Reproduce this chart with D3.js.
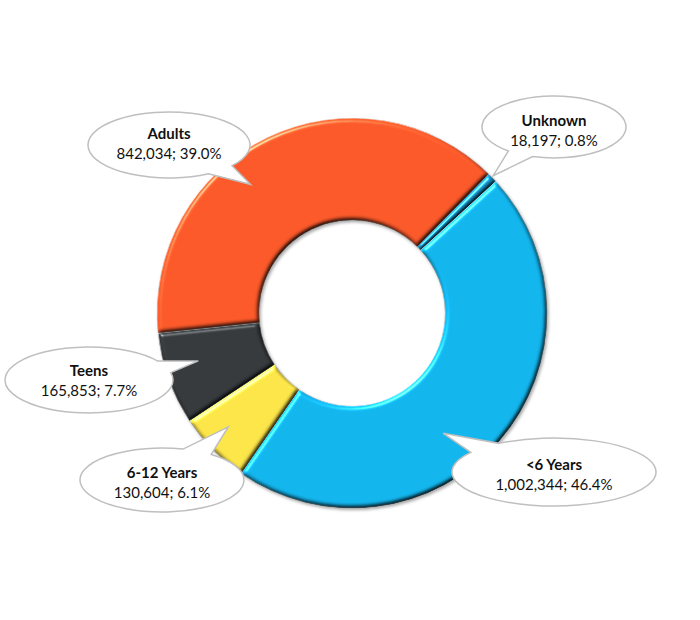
<!DOCTYPE html>
<html lang="en">
<head>
<meta charset="UTF-8">
<script src="https://d3js.org/d3.v7.min.js"></script>
<style>
  body { margin: 0; background: #fff; }
  svg { display: block; font-family: Lato, "Open Sans", sans-serif; }
</style>
</head>
<body>
<script>
// Donut data
const categories = ['Unknown', '<6 Years', '6-12 Years', 'Teens', 'Adults'];
const counts = [18197, 1002344, 130604, 165853, 842034];
const percentLabels = ['0.8%', '46.4%', '6.1%', '7.7%', '39.0%'];
const colors = ['#1790c4', '#14b6ee', '#fde64a', '#373b3e', '#fc5a2b'];

const width = 700, height = 620;
const cx = 352, cy = 313;
const rOuter = 195, rInner = 93;
const startDeg = 44.5;

// callout placement: ellipse centre/radii, text shift, and tip in polar coords around the donut centre
const callouts = {
    'Unknown':    { x: 554, y: 127, rx: 72,  ry: 31, dy: 5,   tipAngle: 45.8,  tipR: 197 },
    '<6 Years':   { x: 554, y: 472, rx: 102, ry: 34, dy: 4,   tipAngle: 142.8, tipR: 151 },
    '6-12 Years': { x: 162, y: 480, rx: 82,  ry: 32, dy: 3.5, tipAngle: 227.4, tipR: 168 },
    'Teens':      { x: 89,  y: 380, rx: 84,  ry: 33, dy: 1.5, tipAngle: 252.7, tipR: 161 },
    'Adults':     { x: 169, y: 145, rx: 81,  ry: 33, dy: 0,   tipAngle: 321.7, tipR: 164 }
};

const svg = d3.select('body').append('svg')
    .attr('width', width)
    .attr('height', height);

const defs = svg.append('defs');

// bevel: blurred alpha lit from the top-left, multiplied into the fill
const bevel = defs.append('filter')
    .attr('id', 'bevel')
    .attr('color-interpolation-filters', 'sRGB')
    .attr('x', '-5%').attr('y', '-5%')
    .attr('width', '110%').attr('height', '110%');
bevel.append('feGaussianBlur')
    .attr('in', 'SourceAlpha')
    .attr('stdDeviation', 2.2)
    .attr('result', 'blur');
bevel.append('feDiffuseLighting')
    .attr('in', 'blur')
    .attr('surfaceScale', 3)
    .attr('diffuseConstant', 1)
    .attr('lighting-color', '#fff')
    .attr('result', 'diff')
    .append('feDistantLight')
    .attr('azimuth', 235)
    .attr('elevation', 55);
bevel.append('feSpecularLighting')
    .attr('in', 'blur')
    .attr('surfaceScale', 3)
    .attr('specularConstant', 0.5)
    .attr('specularExponent', 40)
    .attr('lighting-color', '#fff')
    .attr('result', 'spec')
    .append('feDistantLight')
    .attr('azimuth', 235)
    .attr('elevation', 40);
bevel.append('feComposite')
    .attr('in', 'SourceGraphic')
    .attr('in2', 'diff')
    .attr('operator', 'arithmetic')
    .attr('k1', 1.22).attr('k2', 0).attr('k3', 0).attr('k4', 0)
    .attr('result', 'lit');
bevel.append('feComposite')
    .attr('in', 'spec')
    .attr('in2', 'SourceAlpha')
    .attr('operator', 'in')
    .attr('result', 'specIn');
bevel.append('feComposite')
    .attr('in', 'lit')
    .attr('in2', 'specIn')
    .attr('operator', 'arithmetic')
    .attr('k1', 0).attr('k2', 1).attr('k3', 1).attr('k4', -0.01)
    .attr('result', 'sum');
bevel.append('feComposite')
    .attr('in', 'sum')
    .attr('in2', 'SourceAlpha')
    .attr('operator', 'in');

// soft shadow under the ring
const shadow = defs.append('filter')
    .attr('id', 'shadow')
    .attr('color-interpolation-filters', 'sRGB')
    .attr('x', '-10%').attr('y', '-10%')
    .attr('width', '120%').attr('height', '120%');
shadow.append('feDropShadow')
    .attr('dx', 1.5).attr('dy', 2)
    .attr('stdDeviation', 1.8)
    .attr('flood-color', '#000')
    .attr('flood-opacity', 0.35);

const slices = categories.map((c, i) => ({ name: c, value: counts[i], pct: percentLabels[i], color: colors[i] }));

const start = startDeg * Math.PI / 180;
const pie = d3.pie()
    .sort(null)
    .value(d => d.value)
    .startAngle(start)
    .endAngle(start + 2 * Math.PI);

const arc = d3.arc()
    .innerRadius(rInner)
    .outerRadius(rOuter);

const ring = svg.append('g')
    .attr('transform', `translate(${cx}, ${cy})`)
    .attr('filter', 'url(#shadow)');

ring.selectAll('path')
    .data(pie(slices))
    .enter()
    .append('path')
    .attr('d', arc)
    .attr('fill', d => d.data.color)
    .attr('stroke', '#fff')
    .attr('stroke-width', 0.6)
    .attr('filter', 'url(#bevel)');

// callouts
function polar(deg, r) {
    const a = deg * Math.PI / 180;
    return [cx + r * Math.sin(a), cy - r * Math.cos(a)];
}

function calloutPath(c) {
    const tip = polar(c.tipAngle, c.tipR);
    const a = Math.atan2((tip[1] - c.y) / c.ry, (tip[0] - c.x) / c.rx);
    const hw = 11 * Math.PI / 180;
    const p = t => [c.x + c.rx * Math.cos(t), c.y + c.ry * Math.sin(t)];
    const p1 = p(a + hw), p2 = p(a - hw);
    return `M${p1[0]},${p1[1]} A${c.rx},${c.ry} 0 1 1 ${p2[0]},${p2[1]} L${tip[0]},${tip[1]} Z`;
}

const labels = svg.append('g')
    .selectAll('g')
    .data(slices)
    .enter()
    .append('g');

labels.append('path')
    .attr('d', d => calloutPath(callouts[d.name]))
    .attr('fill', '#fff')
    .attr('stroke', '#bfbfbf')
    .attr('stroke-width', 1.5);

labels.append('text')
    .attr('x', d => callouts[d.name].x)
    .attr('y', d => callouts[d.name].y + callouts[d.name].dy - 6)
    .attr('text-anchor', 'middle')
    .attr('font-size', '15px')
    .attr('font-weight', 'bold')
    .attr('fill', '#111')
    .text(d => d.name);

labels.append('text')
    .attr('x', d => callouts[d.name].x)
    .attr('y', d => callouts[d.name].y + callouts[d.name].dy + 14)
    .attr('text-anchor', 'middle')
    .attr('font-size', '15px')
    .attr('fill', '#111')
    .text(d => `${d3.format(',')(d.value)}; ${d.pct}`);
</script>
</body>
</html>
